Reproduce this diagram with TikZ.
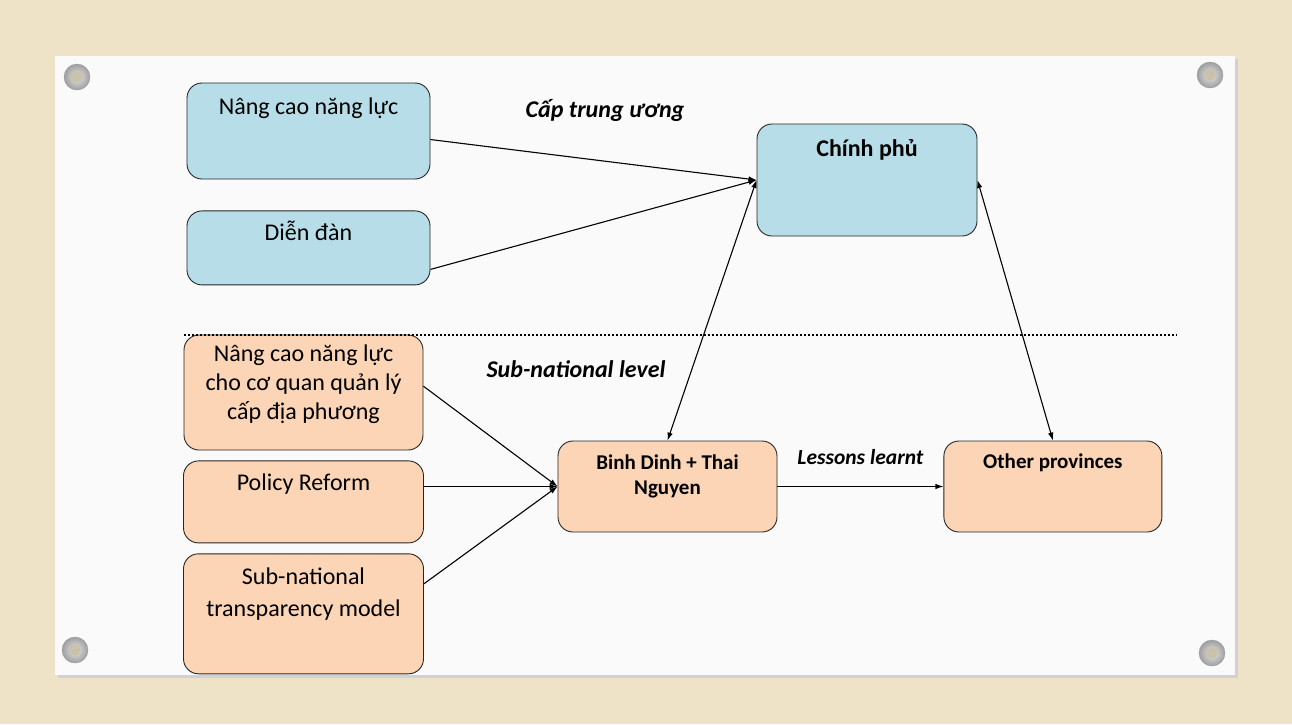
\documentclass[tikz,border=0pt]{standalone}
\usepackage{fontspec}
\setmainfont{Carlito}
\usepackage{tikz}
\usetikzlibrary{arrows.meta,positioning}
\definecolor{colBlue}{HTML}{B7DEE8}
\definecolor{colOrange}{HTML}{FBD5B5}
\definecolor{colCanvas}{HTML}{EEE3C6}
\definecolor{colCard}{HTML}{FAFAFA}

\begin{document}
\begin{tikzpicture}[x=1pt, y=-1pt,
  box/.style={draw=black!85, line width=0.9pt, rounded corners=15pt, minimum width=240pt},
  bbox/.style={box, fill=colBlue},
  obox/.style={box, fill=colOrange},
  intxt/.style={anchor=north, align=flush center, text width=230pt, inner sep=0pt,
                font=\fontsize{24}{29}\selectfont, execute at begin node={\rule{0pt}{#1}}},
  intxt/.default=30pt,
  arr/.style={-{Latex[length=8pt,width=5.5pt]}, line width=1.1pt},
  barr/.style={{Latex[length=8pt,width=5.5pt]}-{Latex[length=8pt,width=5.5pt]}, line width=1.1pt},
  lvl/.style={font=\fontsize{24}{29}\selectfont\bfseries\itshape, anchor=base},
  sep/.style={line width=2pt, dash pattern=on 2pt off 2pt}
]
  \useasboundingbox (0,0) rectangle (1292,724);

  % canvas, card and grommets
  \fill[colCanvas] (0,0) rectangle (1292,724);
  \fill[black!18] (58,59) rectangle (1238,678);
  \fill[colCard] (55,56) rectangle (1235,675);
  \foreach \gx/\gy in {77/77, 1210/75, 75/650, 1212/653}{
    \shade[inner color=gray!20, outer color=gray!75, draw=gray!80] (\gx,\gy) circle (13pt);
    \fill[colCanvas!85!black] (\gx,\gy) circle (5.5pt);
  }

  % central level
  \node[bbox, minimum width=243pt, minimum height=96pt,
        label={[intxt=32pt]north:Nâng cao năng lực}] (nang) at (308.5,131) {};
  \node[bbox, minimum width=243pt, minimum height=74pt, below=31pt of nang,
        label={[intxt]north:Diễn đàn}] (dien) {};
  \node[bbox, minimum width=220pt, minimum height=112pt,
        label={[intxt=33pt, font=\fontsize{24}{29}\selectfont\bfseries]north:Chính phủ}] (gov) at (867,180) {};
  \node[lvl] (capTW) at (605,117) {Cấp trung ương};

  % sub-national level
  \node[obox, minimum width=239pt, minimum height=115pt,
        label={[intxt=27pt]north:Nâng cao năng lực\\cho cơ quan quản lý\\cấp địa phương}] (nangL) at (303.5,392.5) {};
  \node[obox, minimum height=82pt, below=10pt of nangL,
        label={[intxt]north:Policy Reform}] (pol) {};
  \node[obox, minimum height=120pt, below=10pt of pol,
        label={[intxt=31pt, font=\fontsize{24}{32}\selectfont]north:Sub-national\\transparency model}] (sub) {};
  \node[obox, minimum width=219pt, minimum height=91pt,
        label={[intxt=29pt, font=\fontsize{21}{25}\selectfont\bfseries]north:Binh Dinh + Thai\\Nguyen}] (bd) at (667.5,486.5) {};
  \node[obox, minimum width=218pt, minimum height=91pt, right=166pt of bd,
        label={[intxt=28pt, font=\fontsize{21}{25}\selectfont\bfseries]north:Other provinces}] (oth) {};
  \node[lvl] (subLvl) at (576,377) {Sub-national level};

  \draw[sep] (nangL.north west) -- ++(993,0);

  \draw[arr] (nang.-4)  -- (gov.west);
  \draw[arr] (dien.-10) -- (gov.west);
  \draw[barr] (bd.north) -- (gov.west);
  \draw[barr] (gov.east) -- (oth.north);
  \draw[arr] (nangL.3)  -- (bd.west);
  \draw[arr] (pol.east |- bd.west) -- (bd.west);
  \draw[arr] (sub.14)   -- (bd.west);
  \draw[arr] (bd) -- (oth) node[midway, anchor=base, yshift=22pt,
        font=\fontsize{21.5}{25}\selectfont\bfseries\itshape] {Lessons learnt};
\end{tikzpicture}
\end{document}
